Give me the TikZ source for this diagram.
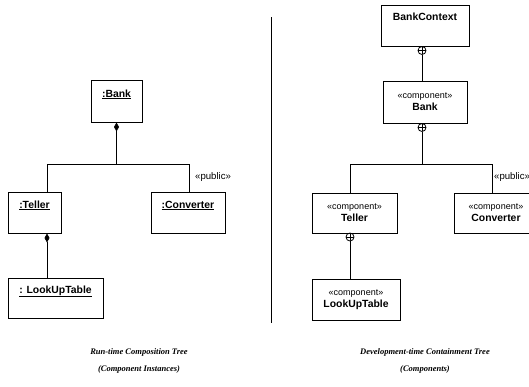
\documentclass[tikz,border=0pt]{standalone}
\usepackage{fontspec}
\setmainfont{Liberation Serif}
\setsansfont{Liberation Sans}
\usetikzlibrary{arrows.meta,calc}

\begin{document}
\begin{tikzpicture}[x=1pt,y=-1pt,
  link/.style={line width=0.8pt},
  comp/.style={link,{Diamond[width=5pt,length=9pt]}-},
  box/.style={draw,line width=0.9pt,inner xsep=0pt,inner ysep=0pt,
    font=\fontsize{9}{13}\selectfont\sffamily},
  objbox/.style={box,font=\fontsize{10.4}{12}\selectfont\sffamily\bfseries},
  compbox/.style={box,align=center},
  cname/.style={font=\fontsize{10.4}{12}\selectfont\bfseries},
  cplus/.style={draw,circle,line width=0.8pt,minimum size=8pt,inner sep=0pt,
    path picture={\draw[line width=0.7pt]
      (path picture bounding box.north) -- (path picture bounding box.south)
      (path picture bounding box.west) -- (path picture bounding box.east);}},
  lbl/.style={font=\fontsize{9.6}{11}\selectfont\sffamily,inner sep=0pt},
  caption/.style={align=center,font=\fontsize{8.5}{17}\selectfont\bfseries\itshape}
]
\useasboundingbox (0,0) rectangle (529,386);

% ---- run-time composition tree (instances) ----
\node[objbox,minimum width=51pt,text height=17pt,text depth=25pt]
  (bankL) at (116.5,101) {\underline{:Bank}};
\node[objbox,minimum width=53pt,text height=16pt,text depth=25pt]
  (tellerL) at (34.5,212.5) {\underline{:Teller}};
\node[objbox,minimum width=74pt,text height=16pt,text depth=25pt]
  (convL) at (188,212.5) {\underline{:Converter}};
\node[objbox,minimum width=95pt,text height=15pt,text depth=25pt]
  (lookL) at (55.5,298) {\underline{: LookUpTable}};

\coordinate (jL) at (116.5,164);
\draw[comp] (bankL.south) -- (jL);
\draw[link] (jL) -| ([xshift=12.5pt]tellerL.north);
\draw[link] (jL) -| ([xshift=1pt]convL.north);
\draw[comp] ([xshift=12.5pt]tellerL.south) -- ([xshift=-8.5pt]lookL.north);
\node[lbl,anchor=west] (pubL) at (195,177) {«public»};

% ---- separator ----
\coordinate (sepTop) at (271,17);
\coordinate (sepBot) at (271,323);
\draw[line width=0.8pt] (sepTop) -- (sepBot);

% ---- development-time containment tree (components) ----
\node[objbox,minimum width=88pt,text height=15.5pt,text depth=25.5pt]
  (ctxR) at (425,25.5) {BankContext};
\node[compbox,minimum width=84pt,minimum height=42pt]
  (bankR) at (425,102) {«component»\\[-1pt]{\fontsize{10.4}{12}\selectfont\bfseries Bank}};
\node[compbox,minimum width=85pt,minimum height=40pt]
  (tellerR) at (354.5,213) {«component»\\[-1pt]{\fontsize{10.4}{12}\selectfont\bfseries Teller}};
\node[compbox,minimum width=84pt,minimum height=40pt]
  (convR) at (496,213) {«component»\\[-1pt]{\fontsize{10.4}{12}\selectfont\bfseries Converter}};
\node[compbox,minimum width=88pt,minimum height=41pt]
  (lookR) at (356,299.5) {«component»\\[-1pt]{\fontsize{10.4}{12}\selectfont\bfseries LookUpTable}};

\node[cplus] (cpA) at (422,50.5) {};
\draw[link] (cpA.south) -- (cpA |- bankR.north);
\node[cplus] (cpB) at (422,127.5) {};
\coordinate (jR) at (422,164);
\draw[link] (cpB.south) -- (jR);
\draw[link] (jR) -| ([xshift=-4.5pt]tellerR.north);
\draw[link] (jR) -| ([xshift=-4pt]convR.north);
\node[cplus] (cpC) at (350,237) {};
\draw[link] (cpC.south) -- (cpC |- lookR.north);
\node[lbl,anchor=west] (pubR) at (494,177) {«public»};

% ---- captions ----
\node[caption] (capL) at (139,360.5) {Run-time Composition Tree\\(Component Instances)};
\node[caption] (capR) at (425,360.5) {Development-time Containment Tree\\(Components)};
\end{tikzpicture}
\end{document}
